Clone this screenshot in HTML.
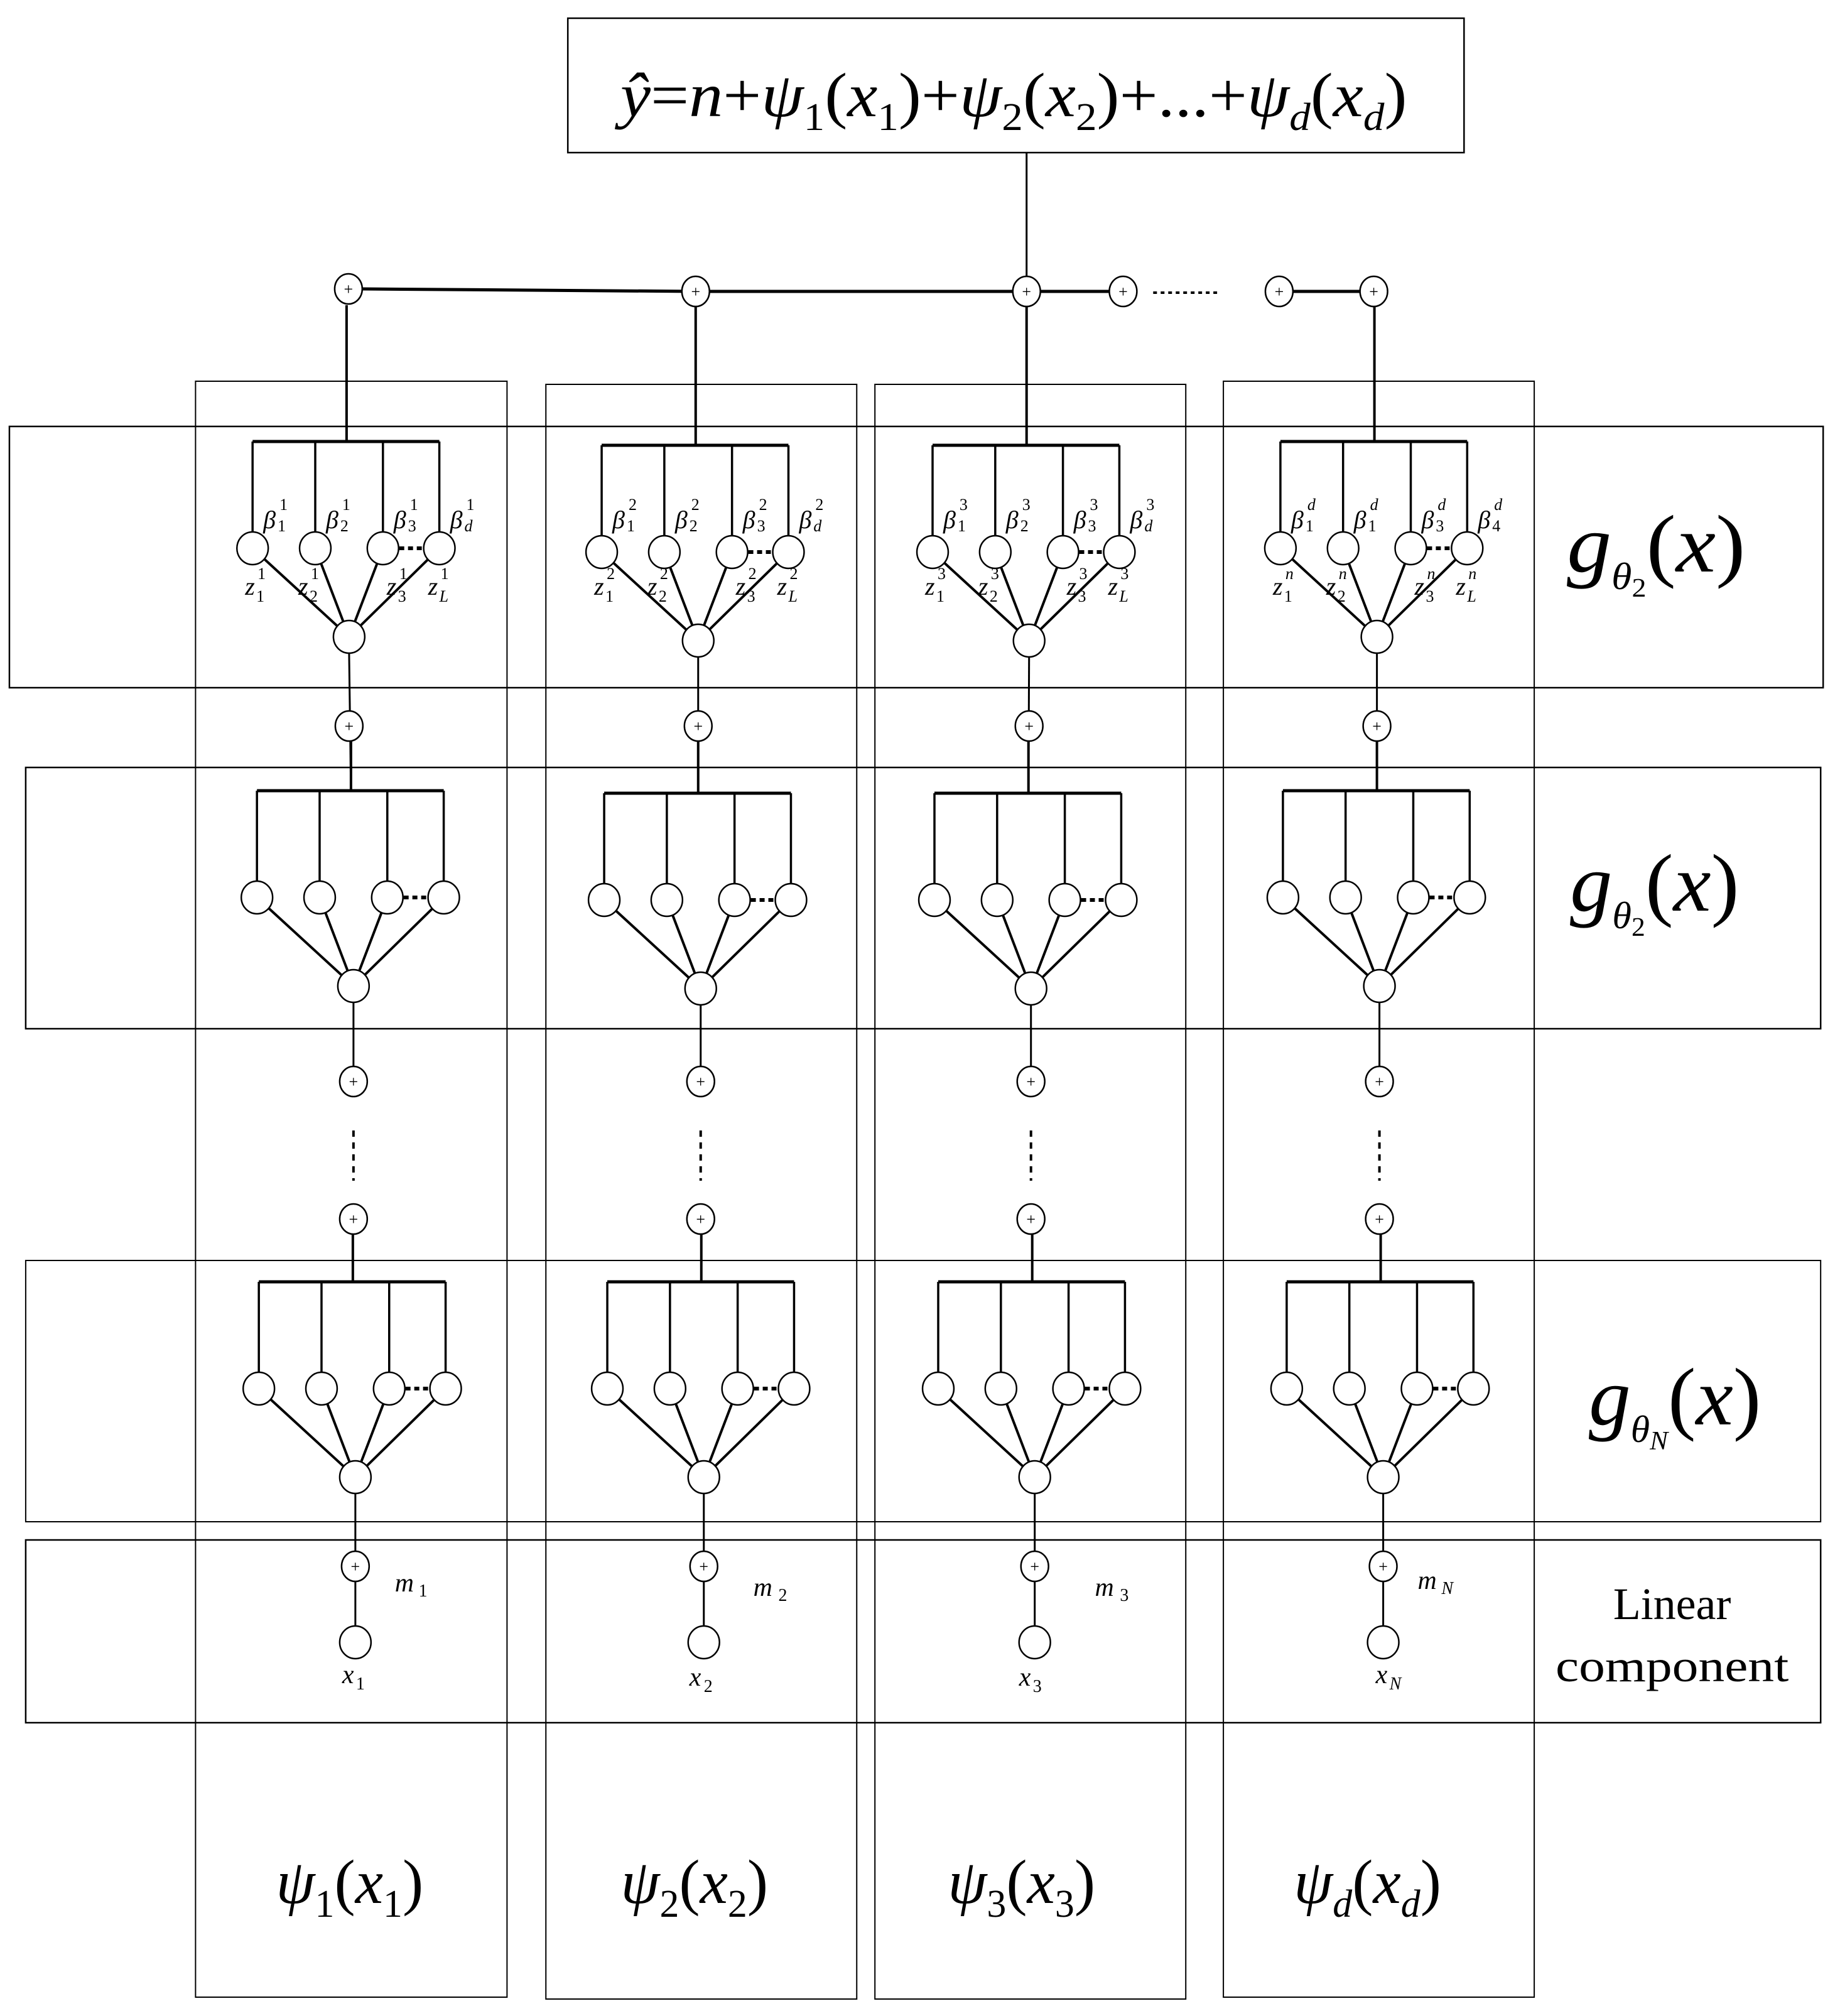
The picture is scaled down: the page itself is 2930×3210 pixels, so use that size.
<!DOCTYPE html>
<html><head><meta charset="utf-8"><style>
html,body{margin:0;padding:0;background:#fff}
svg{display:block}
text{font-family:"Liberation Serif",serif;fill:#000}
.i{font-style:italic}
</style></head><body>
<svg id="s" width="2930" height="3210" viewBox="0 0 2930 3210" xmlns="http://www.w3.org/2000/svg">
<g transform="scale(0.998,1)">
<g id="shapes" fill="none" stroke="#000"></g>
<text class="i" x="990" y="185" font-size="100" textLength="1255" lengthAdjust="spacingAndGlyphs">ŷ<tspan font-style="normal">=</tspan>n<tspan font-style="normal">+</tspan>ψ<tspan font-style="normal" font-size="62" dy="22">1</tspan><tspan font-style="normal" dy="-22">(</tspan>x<tspan font-style="normal" font-size="62" dy="22">1</tspan><tspan font-style="normal" dy="-22">)+</tspan>ψ<tspan font-style="normal" font-size="62" dy="22">2</tspan><tspan font-style="normal" dy="-22">(</tspan>x<tspan font-style="normal" font-size="62" dy="22">2</tspan><tspan font-style="normal" dy="-22">)+...+</tspan>ψ<tspan font-size="62" dy="22">d</tspan><tspan font-style="normal" dy="-22">(</tspan>x<tspan font-size="62" dy="22">d</tspan><tspan font-style="normal" dy="-22">)</tspan></text>

<text class="i" x="2500" y="910" font-size="130" textLength="285" lengthAdjust="spacingAndGlyphs">g<tspan font-size="60" dy="28">θ</tspan><tspan font-style="normal" font-size="42" dy="12">2</tspan><tspan font-style="normal" dy="-40">(</tspan>x<tspan font-style="normal">)</tspan></text>
<text class="i" x="2505" y="1450" font-size="130" textLength="270" lengthAdjust="spacingAndGlyphs">g<tspan font-size="60" dy="28">θ</tspan><tspan font-style="normal" font-size="42" dy="12">2</tspan><tspan font-style="normal" dy="-40">(</tspan>x<tspan font-style="normal">)</tspan></text>
<text class="i" x="2535" y="2268" font-size="130" textLength="275" lengthAdjust="spacingAndGlyphs">g<tspan font-size="60" dy="28">θ</tspan><tspan font-size="42" dy="12">N</tspan><tspan font-style="normal" dy="-40">(</tspan>x<tspan font-style="normal">)</tspan></text>

<text x="2668" y="2578" font-size="72" text-anchor="middle">Linear</text>
<text x="2668" y="2677" font-size="72" text-anchor="middle" textLength="372" lengthAdjust="spacingAndGlyphs">component</text>

<text class="i" font-size="42">
<tspan x="630" y="2534">m</tspan><tspan x="1202" y="2541">m</tspan><tspan x="1747" y="2541">m</tspan><tspan x="2262" y="2530">m</tspan>
<tspan x="546" y="2680">x</tspan><tspan x="1100" y="2684">x</tspan><tspan x="1626" y="2684">x</tspan><tspan x="2195" y="2680">x</tspan>
</text>
<text font-size="28">
<tspan x="668" y="2542">1</tspan><tspan x="1242" y="2549">2</tspan><tspan x="1787" y="2549">3</tspan><tspan x="2300" y="2538" font-style="italic">N</tspan>
<tspan x="568" y="2690">1</tspan><tspan x="1123" y="2694">2</tspan><tspan x="1648" y="2694">3</tspan><tspan x="2217" y="2690" font-style="italic">N</tspan>
</text>

<text x="558" y="3030" font-size="100" text-anchor="middle"><tspan class="i">ψ</tspan><tspan font-size="62" dy="22">1</tspan><tspan dy="-22">(</tspan><tspan class="i">x</tspan><tspan font-size="62" dy="22">1</tspan><tspan dy="-22">)</tspan></text>
<text x="1108" y="3030" font-size="100" text-anchor="middle"><tspan class="i">ψ</tspan><tspan font-size="62" dy="22">2</tspan><tspan dy="-22">(</tspan><tspan class="i">x</tspan><tspan font-size="62" dy="22">2</tspan><tspan dy="-22">)</tspan></text>
<text x="1630" y="3030" font-size="100" text-anchor="middle"><tspan class="i">ψ</tspan><tspan font-size="62" dy="22">3</tspan><tspan dy="-22">(</tspan><tspan class="i">x</tspan><tspan font-size="62" dy="22">3</tspan><tspan dy="-22">)</tspan></text>
<text x="2182" y="3030" font-size="100" text-anchor="middle"><tspan class="i">ψ</tspan><tspan class="i" font-size="62" dy="22">d</tspan><tspan dy="-22">(</tspan><tspan class="i">x</tspan><tspan class="i" font-size="62" dy="22">d</tspan><tspan dy="-22">)</tspan></text>

<text class="i" font-size="40">
<tspan x="420" y="841">β</tspan><tspan x="520" y="841">β</tspan><tspan x="628" y="841">β</tspan><tspan x="718" y="841">β</tspan>
<tspan x="977" y="841">β</tspan><tspan x="1077" y="841">β</tspan><tspan x="1185" y="841">β</tspan><tspan x="1275" y="841">β</tspan>
<tspan x="1505" y="841">β</tspan><tspan x="1605" y="841">β</tspan><tspan x="1713" y="841">β</tspan><tspan x="1803" y="841">β</tspan>
<tspan x="2060" y="841">β</tspan><tspan x="2160" y="841">β</tspan><tspan x="2268" y="841">β</tspan><tspan x="2358" y="841">β</tspan>
<tspan x="391" y="947">z</tspan><tspan x="476" y="947">z</tspan><tspan x="617" y="947">z</tspan><tspan x="683" y="947">z</tspan>
<tspan x="948" y="947">z</tspan><tspan x="1033" y="947">z</tspan><tspan x="1174" y="947">z</tspan><tspan x="1240" y="947">z</tspan>
<tspan x="1476" y="947">z</tspan><tspan x="1561" y="947">z</tspan><tspan x="1702" y="947">z</tspan><tspan x="1768" y="947">z</tspan>
<tspan x="2031" y="947">z</tspan><tspan x="2116" y="947">z</tspan><tspan x="2257" y="947">z</tspan><tspan x="2323" y="947">z</tspan>
</text>
<text font-size="26">
<tspan x="443" y="846">1</tspan><tspan x="543" y="846">2</tspan><tspan x="651" y="846">3</tspan><tspan x="741" y="846" font-style="italic">d</tspan>
<tspan x="1000" y="846">1</tspan><tspan x="1100" y="846">2</tspan><tspan x="1208" y="846">3</tspan><tspan x="1298" y="846" font-style="italic">d</tspan>
<tspan x="1528" y="846">1</tspan><tspan x="1628" y="846">2</tspan><tspan x="1736" y="846">3</tspan><tspan x="1826" y="846" font-style="italic">d</tspan>
<tspan x="2083" y="846">1</tspan><tspan x="2183" y="846">1</tspan><tspan x="2291" y="846">3</tspan><tspan x="2381" y="846">4</tspan>
<tspan x="446" y="812">1</tspan><tspan x="546" y="812">1</tspan><tspan x="654" y="812">1</tspan><tspan x="744" y="812">1</tspan>
<tspan x="1003" y="812">2</tspan><tspan x="1103" y="812">2</tspan><tspan x="1211" y="812">2</tspan><tspan x="1301" y="812">2</tspan>
<tspan x="1531" y="812">3</tspan><tspan x="1631" y="812">3</tspan><tspan x="1739" y="812">3</tspan><tspan x="1829" y="812">3</tspan>
<tspan x="2086" y="812" font-style="italic">d</tspan><tspan x="2186" y="812" font-style="italic">d</tspan><tspan x="2294" y="812" font-style="italic">d</tspan><tspan x="2384" y="812" font-style="italic">d</tspan>
<tspan x="409" y="958">1</tspan><tspan x="494" y="958">2</tspan><tspan x="635" y="958">3</tspan><tspan x="701" y="958" font-style="italic">L</tspan>
<tspan x="966" y="958">1</tspan><tspan x="1051" y="958">2</tspan><tspan x="1192" y="958">3</tspan><tspan x="1258" y="958" font-style="italic">L</tspan>
<tspan x="1494" y="958">1</tspan><tspan x="1579" y="958">2</tspan><tspan x="1720" y="958">3</tspan><tspan x="1786" y="958" font-style="italic">L</tspan>
<tspan x="2049" y="958">1</tspan><tspan x="2134" y="958">2</tspan><tspan x="2275" y="958">3</tspan><tspan x="2341" y="958" font-style="italic">L</tspan>
<tspan x="411" y="922">1</tspan><tspan x="496" y="922">1</tspan><tspan x="637" y="922">1</tspan><tspan x="703" y="922">1</tspan>
<tspan x="968" y="922">2</tspan><tspan x="1053" y="922">2</tspan><tspan x="1194" y="922">2</tspan><tspan x="1260" y="922">2</tspan>
<tspan x="1496" y="922">3</tspan><tspan x="1581" y="922">3</tspan><tspan x="1722" y="922">3</tspan><tspan x="1788" y="922">3</tspan>
<tspan x="2051" y="922" font-style="italic">n</tspan><tspan x="2136" y="922" font-style="italic">n</tspan><tspan x="2277" y="922" font-style="italic">n</tspan><tspan x="2343" y="922" font-style="italic">n</tspan>
</text>
<g id="plus" font-size="26" text-anchor="middle"></g>
</g>
</svg>
<script>
(function(){
var NS="http://www.w3.org/2000/svg",g=document.getElementById("shapes"),pg=document.getElementById("plus");
function el(t,a,p){var e=document.createElementNS(NS,t);for(var k in a)e.setAttribute(k,a[k]);(p||g).appendChild(e);return e;}
function L(x1,y1,x2,y2,w,d){var a={x1:x1,y1:y1,x2:x2,y2:y2,"stroke-width":w||3};if(d)a["stroke-dasharray"]=d;el("line",a);}
function R(x,y,w,h,sw){el("rect",{x:x,y:y,width:w,height:h,"stroke-width":sw||2});}
function C(x,y,r){el("ellipse",{cx:x,cy:y,rx:r,ry:r+1,fill:"#fff","stroke-width":2.5});}
function P(x,y){el("ellipse",{cx:x,cy:y,rx:22,ry:24,fill:"#fff","stroke-width":2.5});var t=el("text",{x:x,y:y+9},pg);t.textContent="+";}
R(906,29,1430,214,2.5);
R(312,607,497,2573,2);R(871,612,496,2571,2);R(1396,612,496,2571,2);R(1952,607,496,2573,2);
R(15,679,2894,416,2.5);R(41,1222,2864,416,2.5);R(41,2007,2864,416,2);R(41,2452,2864,291,2.5);
L(1638,243,1638,462,3);
L(578,460,1110,464,5);L(1110,464,1792,464,5);L(2041,464,2192,464,5);
L(1840,466,1944,466,4,"6 6");
var sx=[556,1110,1638,1792,2041,2192];
function block(cx,by,top){
  L(cx,top,cx,by,4);
  L(cx-150,by,cx+148,by,5);
  var dx=[-150,-50,58,148],cy=by+170,ny=by+311,nx=cx+4;
  dx.forEach(function(d){L(cx+d,by,cx+d,cy,3.5);L(cx+d,cy,nx,ny,4);});
  dx.forEach(function(d){C(cx+d,cy,25);});
  L(cx+58+26,cy,cx+148-26,cy,6,"8 6");
  C(nx,ny,25);
  return [nx,ny];
}
var B1=[553,1110,1638,2193],B2=[560,1114,1641,2197],BN=[563,1119,1647,2203];
for(var i=0;i<4;i++){
  var n1=block(B1[i],[703,709,709,703][i],462+24);
  L(n1[0],n1[1]+25,B2[i],1259,3);
  var n2=block(B2[i],[1259,1263,1263,1259][i],1156);
  L(n2[0],n2[1]+25,n2[0],1722,3);
  L(n2[0],1800,n2[0],1880,4,"10 9");
  var nN=block(BN[i],2041,1941);
  L(nN[0],nN[1]+25,nN[0],2615,3);
}
[0,1,2,3,4,5].forEach(function(k){P(sx[k],k==0?460:464);});
for(var i=0;i<4;i++){
  P(B1[i]+4,1156);P(B2[i]+4,1722);P(B2[i]+4,1941);P(BN[i]+4,2494);
  C(BN[i]+4,2615,25);
}
})();
</script>
</body></html>
